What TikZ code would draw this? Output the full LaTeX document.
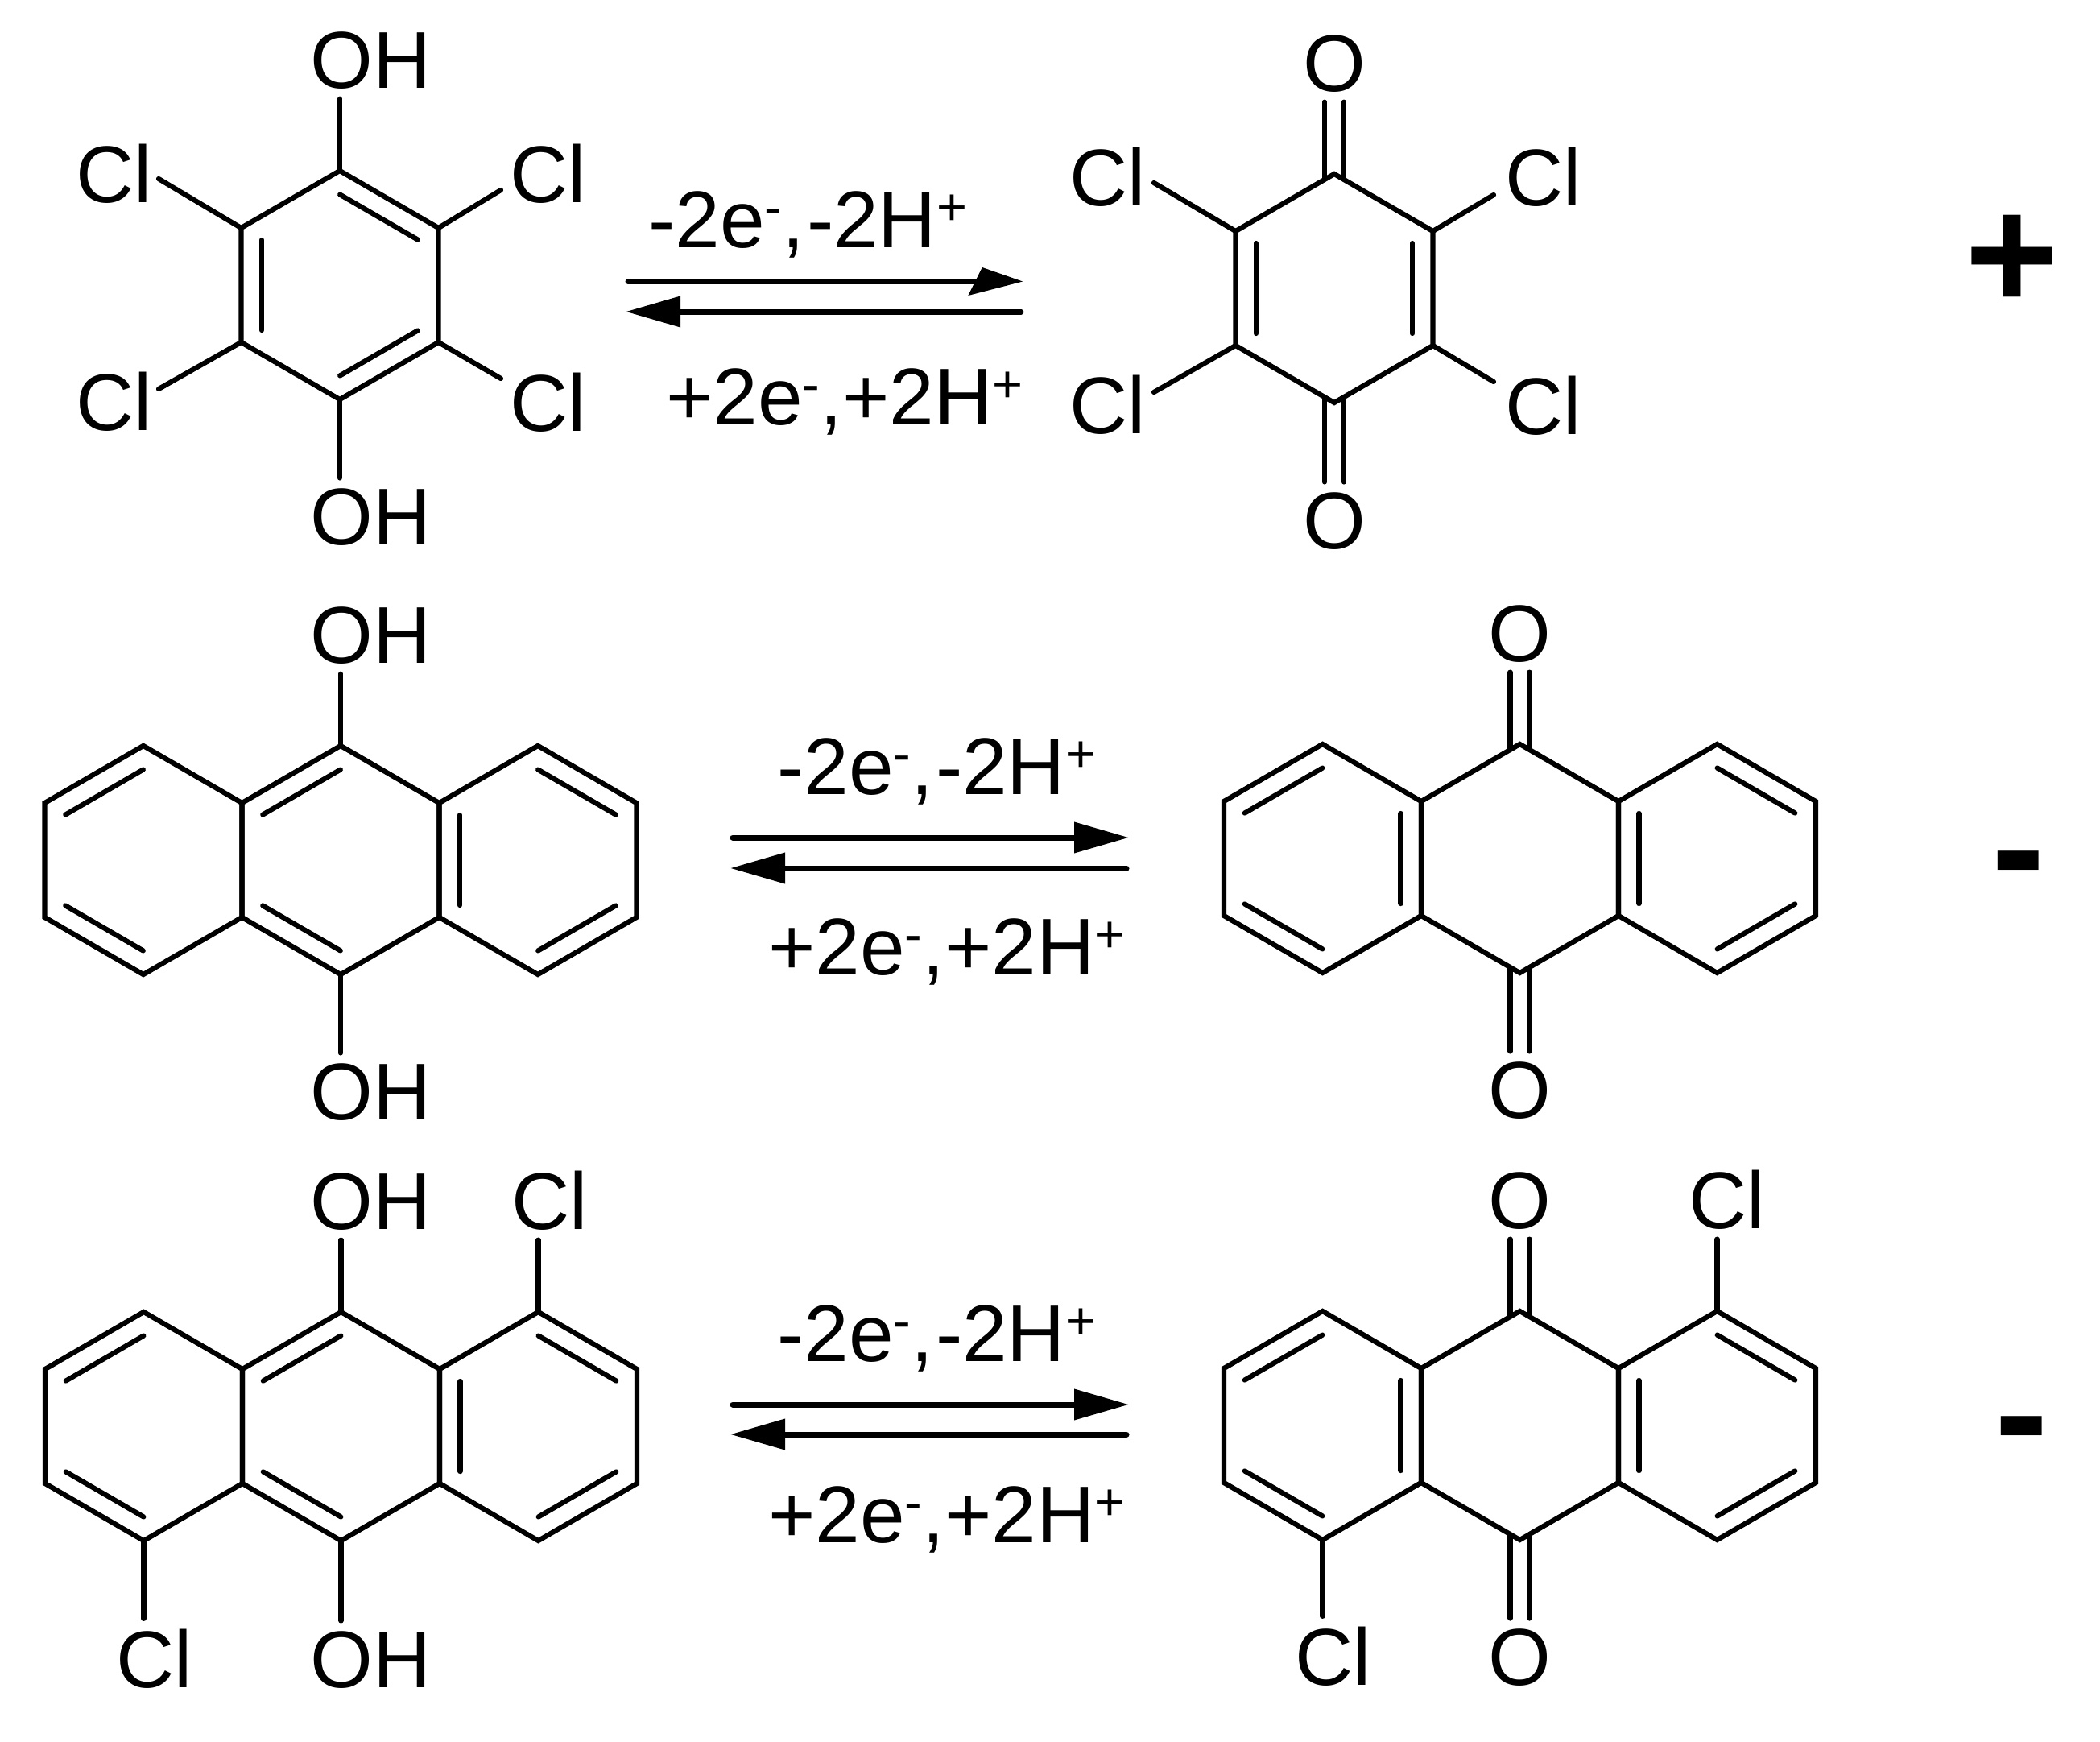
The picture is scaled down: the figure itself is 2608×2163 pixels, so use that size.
\documentclass[tikz,border=0pt]{standalone}
\usepackage{fontspec}
\setmainfont{Liberation Sans}
\usetikzlibrary{calc}
\usetikzlibrary{arrows.meta}
\tikzset{
    bond/.style={line width=6.2pt,line cap=round},
    chem/.style={inner sep=0pt,anchor=base west,font=\fontsize{100}{120}\selectfont},
    sign/.style={inner sep=0pt,anchor=base,font=\bfseries\fontsize{200}{240}\selectfont},
    fwd/.style={line width=7pt,line cap=round,-{Triangle[length=68pt,width=37pt]}},
    ring/.pic={
        \coordinate (-t)  at (0,-142);
        \coordinate (-ur) at (122.5,-71);
        \coordinate (-lr) at (122.5,71);
        \coordinate (-b)  at (0,142);
        \coordinate (-ll) at (-122.5,71);
        \coordinate (-ul) at (-122.5,-71);
        \draw[bond] (-t) -- (-ur) -- (-lr) -- (-b) -- (-ll) -- (-ul) -- cycle;
    }
}
\newcommand{\chsup}[1]{\raisebox{28pt}{\fontsize{65}{70}\selectfont #1}}
\newcommand{\dbl}[2]{\draw[bond] ($(#1)!15pt!(#2)!25.5pt!90:(#2)$) -- ($(#2)!15pt!(#1)!-25.5pt!90:(#1)$);}
\newcommand{\sgl}[2]{\draw[bond,shorten >=12.5pt] (#1) -- (#1 |- #2);}
\newcommand{\cob}[2]{%
    \draw[bond,shorten >=12.5pt] ($(#1)!-6pt!(#1 |- #2)+(-12,0)$) -- ($(#1 |- #2)+(-12,0)$);
    \draw[bond,shorten >=12.5pt] ($(#1)!-6pt!(#1 |- #2)+(12,0)$) -- ($(#1 |- #2)+(12,0)$);}

\begin{document}
\begin{tikzpicture}[x=1pt,y=-1pt]
    \useasboundingbox (0,0) rectangle (2608,2163);

    % tetrachloro pair
    \pic (hq) at (422,354) {ring};
    \pic (qa) at (1657,358) {ring};
    \dbl{hq-ur}{hq-t} \dbl{hq-ul}{hq-ll} \dbl{hq-b}{hq-lr}
    \dbl{qa-ul}{qa-ll} \dbl{qa-lr}{qa-ur}

    \node[chem] (hqtop) at (385,109) {OH};
    \node[chem] (hqbot) at (385,676) {OH};
    \node[chem] (hqa)   at (94,251)  {Cl};
    \node[chem] (hqc)   at (633,251) {Cl};
    \node[chem] (hqd)   at (94,534)  {Cl};
    \node[chem] (hqf)   at (633,535) {Cl};
    \coordinate (hqae) at (197,222);
    \coordinate (hqce) at (622,236);
    \coordinate (hqde) at (197,483);
    \coordinate (hqfe) at (622,470);
    \sgl{hq-t}{hqtop.south} \sgl{hq-b}{hqbot.north}
    \draw[bond] (hq-ul) -- (hqae);
    \draw[bond] (hq-ur) -- (hqce);
    \draw[bond] (hq-ll) -- (hqde);
    \draw[bond] (hq-lr) -- (hqfe);

    \node[chem] (qatop) at (1618,113) {O};
    \node[chem] (qabot) at (1618,681) {O};
    \node[chem] (qaa)   at (1328,255) {Cl};
    \node[chem] (qac)   at (1869,255) {Cl};
    \node[chem] (qad)   at (1328,538) {Cl};
    \node[chem] (qaf)   at (1869,539) {Cl};
    \coordinate (qaae) at (1433,227);
    \coordinate (qace) at (1855,242);
    \coordinate (qade) at (1433,487);
    \coordinate (qafe) at (1855,474);
    \cob{qa-t}{qatop.south} \cob{qa-b}{qabot.north}
    \draw[bond] (qa-ul) -- (qaae);
    \draw[bond] (qa-ur) -- (qace);
    \draw[bond] (qa-ll) -- (qade);
    \draw[bond] (qa-lr) -- (qafe);

    \node[chem] (oxa) at (805,307)   {-2e\chsup{-},\kern3pt-2H\chsup{+}};
    \node[chem] (rea) at (827,527)   {+2e\chsup{-},+2H\chsup{+}};
    \coordinate (fa) at (780,349.5);
    \coordinate (ga) at (1271,349.5);
    \coordinate (ha) at (1268,387);
    \coordinate (ka) at (777,387);
    \draw[fwd,-{Triangle[length=60pt,width=33pt,slant=.5]}] (fa) -- (ga);
    \draw[fwd] (ha) -- (ka);
    \node[sign] (plus) at (2498.5,384) {+};

    % anthracene pair
    \pic (hbl) at (178,1068) {ring};
    \pic (hbm) at (423,1068) {ring};
    \pic (hbr) at (668,1068) {ring};
    \dbl{hbl-t}{hbl-ul} \dbl{hbl-ll}{hbl-b}
    \dbl{hbm-t}{hbm-ul} \dbl{hbm-ll}{hbm-b}
    \dbl{hbr-ul}{hbr-ll} \dbl{hbr-ur}{hbr-t} \dbl{hbr-b}{hbr-lr}
    \node[chem] (hbtop) at (385,823)  {OH};
    \node[chem] (hbbot) at (385,1390) {OH};
    \sgl{hbm-t}{hbtop.south} \sgl{hbm-b}{hbbot.north}

    \pic (qbl) at (1642.5,1066) {ring};
    \pic (qbm) at (1887.5,1066) {ring};
    \pic (qbr) at (2132.5,1066) {ring};
    \dbl{qbl-t}{qbl-ul} \dbl{qbl-ll}{qbl-b} \dbl{qbl-lr}{qbl-ur}
    \dbl{qbr-ul}{qbr-ll} \dbl{qbr-ur}{qbr-t} \dbl{qbr-b}{qbr-lr}
    \node[chem] (qbtop) at (1848,821)  {O};
    \node[chem] (qbbot) at (1848,1388) {O};
    \cob{qbm-t}{qbtop.south} \cob{qbm-b}{qbbot.north}

    \node[chem] (oxb) at (965,986)  {-2e\chsup{-},\kern3pt-2H\chsup{+}};
    \node[chem] (reb) at (954,1210) {+2e\chsup{-},+2H\chsup{+}};
    \coordinate (fb) at (910,1040);
    \coordinate (gb) at (1402,1040);
    \coordinate (hb) at (1399,1078);
    \coordinate (kb) at (907,1078);
    \draw[fwd] (fb) -- (gb);
    \draw[fwd] (hb) -- (kb);
    \node[sign] (minb) at (2507,1120) {-};

    % dichloro anthracene pair
    \pic (hcl) at (178.5,1771) {ring};
    \pic (hcm) at (423.5,1771) {ring};
    \pic (hcr) at (668.5,1771) {ring};
    \dbl{hcl-t}{hcl-ul} \dbl{hcl-ll}{hcl-b}
    \dbl{hcm-t}{hcm-ul} \dbl{hcm-ll}{hcm-b}
    \dbl{hcr-ul}{hcr-ll} \dbl{hcr-ur}{hcr-t} \dbl{hcr-b}{hcr-lr}
    \node[chem] (hctop) at (385,1526) {OH};
    \node[chem] (hcbot) at (385,2095) {OH};
    \node[chem] (hccl)  at (635,1526) {Cl};
    \node[chem] (hcdl)  at (144,2095) {Cl};
    \sgl{hcm-t}{hctop.south} \sgl{hcm-b}{hcbot.north}
    \sgl{hcr-t}{hccl.south}  \sgl{hcl-b}{hcdl.north}

    \pic (qcl) at (1642.5,1770) {ring};
    \pic (qcm) at (1887.5,1770) {ring};
    \pic (qcr) at (2132.5,1770) {ring};
    \dbl{qcl-t}{qcl-ul} \dbl{qcl-ll}{qcl-b} \dbl{qcl-lr}{qcl-ur}
    \dbl{qcr-ul}{qcr-ll} \dbl{qcr-ur}{qcr-t} \dbl{qcr-b}{qcr-lr}
    \node[chem] (qctop) at (1848,1525) {O};
    \node[chem] (qcbot) at (1848,2092) {O};
    \node[chem] (qccl)  at (2097,1525) {Cl};
    \node[chem] (qcdl)  at (1608,2092) {Cl};
    \cob{qcm-t}{qctop.south} \cob{qcm-b}{qcbot.north}
    \sgl{qcr-t}{qccl.south}  \sgl{qcl-b}{qcdl.north}

    \node[chem] (oxc) at (965,1690)  {-2e\chsup{-},\kern3pt-2H\chsup{+}};
    \node[chem] (rec) at (954,1915)  {+2e\chsup{-},+2H\chsup{+}};
    \coordinate (fc) at (910,1744);
    \coordinate (gc) at (1402,1744);
    \coordinate (hc) at (1399,1781);
    \coordinate (kc) at (907,1781);
    \draw[fwd] (fc) -- (gc);
    \draw[fwd] (hc) -- (kc);
    \node[sign] (minc) at (2510.5,1822) {-};
\end{tikzpicture}
\end{document}
